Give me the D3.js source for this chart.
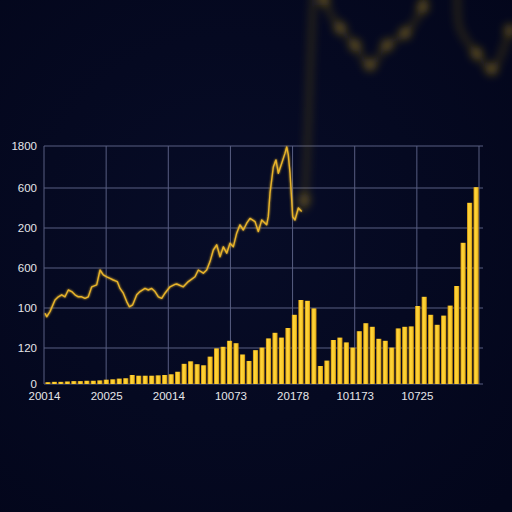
<!DOCTYPE html>
<html>
<head>
<meta charset="utf-8">
<script src="https://cdn.jsdelivr.net/npm/d3@7"></script>
<style>
    body { margin: 0; background: #050921; overflow: hidden; }
    svg { display: block; }
    text { font-family: "Liberation Sans", Arial, sans-serif; }
</style>
</head>
<body>
<div id="chart"></div>
<script>
// tick labels, as printed on the picture
var xLabels = ["20014", "20025", "20014", "10073", "20178", "101173", "10725"];
var yLabels = ["0", "120", "100", "600", "200", "600", "1800"];
var yLevels = [0, 100, 200, 300, 400, 500, 600];

// one bar per slot, 67 slots
var barValues = [5, 6, 6, 7, 8, 8, 9, 9, 10, 12,
    13, 15, 16, 25, 23, 23, 23, 24, 25, 27,
    34, 56, 63, 55, 52, 76, 99, 103, 118, 112,
    82, 64, 94, 101, 124, 138, 126, 150, 183, 220,
    218, 199, 50, 65, 120, 126, 114, 101, 142, 162,
    153, 123, 118, 101, 149, 153, 154, 205, 228, 183,
    158, 181, 206, 255, 363, 463, 502];

// price line (position in bar slots, value)
var linePos = [0.15, 0.41, 0.92, 1.69, 2.2, 2.72, 3.23, 3.73, 4.26, 4.76,
    5.27, 5.79, 6.3, 6.81, 7.33, 8.1, 8.61, 9.11, 9.64, 10.14,
    10.65, 11.26, 11.68, 12.19, 12.71, 13.11, 13.63, 14.25, 14.75, 15.52,
    16.03, 16.55, 17.06, 17.57, 18.09, 18.59, 19.36, 20.13, 20.39, 21.41,
    22.18, 23.21, 23.71, 24.48, 25.0, 25.51, 26.02, 26.54, 27.05, 27.56,
    28.08, 28.58, 29.09, 29.61, 30.12, 30.63, 31.15, 31.66, 32.43, 32.93,
    33.46, 34.22, 34.47, 34.73, 35.24, 35.65, 36.01, 36.53, 37.04, 37.3,
    37.54, 37.81, 38.22, 38.57, 39.08, 39.6];
var lineValues = [187, 178, 191, 220, 228, 233, 228, 245, 241, 233,
    228, 228, 224, 228, 253, 258, 295, 283, 278, 274,
    270, 266, 249, 237, 216, 203, 208, 233, 241, 249,
    245, 249, 241, 228, 224, 237, 253, 259, 260, 253,
    266, 278, 295, 287, 295, 316, 345, 358, 328, 353,
    337, 362, 353, 387, 408, 395, 412, 424, 416, 391,
    420, 408, 429, 487, 550, 567, 535, 559, 583, 598,
    579, 535, 428, 420, 450, 441];

// blurred trace running off the top
var ghostPos = [39.6, 40.0, 41.4, 42.2, 43.0, 45.5, 47.8, 50.1,
    52.7, 55.5, 58.2, 59.0, 62.8, 63.9, 66.5, 68.8, 71.6];
var ghostValues = [441, 470, 950, 1060, 948, 881, 840, 793,
    840, 869, 931, 1000, 1000, 880, 820, 783, 876];
// spots where the blurred trace glows brighter
var ghostSpots = [1, 4, 5, 6, 7, 8, 9, 10, 14, 15, 16];

function drawChart() {
    var w = 512;
    var h = 512;
    var left = 44, right = 480, top = 146, bottom = 384;

    var svg = d3.select("#chart")
        .append("svg")
        .attr("width", w)
        .attr("height", h);

    var defs = svg.append("defs");

    var bg = defs.append("radialGradient").attr("id", "bg")
        .attr("cx", "45%").attr("cy", "45%").attr("r", "75%");
    bg.append("stop").attr("offset", "0%").attr("stop-color", "#070c27");
    bg.append("stop").attr("offset", "100%").attr("stop-color", "#03061b");

    var barGrad = defs.append("linearGradient").attr("id", "barGrad")
        .attr("x1", "0%").attr("x2", "100%").attr("y1", "0%").attr("y2", "0%");
    barGrad.append("stop").attr("offset", "0%").attr("stop-color", "#c98b0a");
    barGrad.append("stop").attr("offset", "30%").attr("stop-color", "#ffd53a");
    barGrad.append("stop").attr("offset", "70%").attr("stop-color", "#f9cb2c");
    barGrad.append("stop").attr("offset", "100%").attr("stop-color", "#c98b0a");

    var glow = defs.append("filter").attr("id", "glow")
        .attr("x", "-10%").attr("y", "-10%").attr("width", "120%").attr("height", "120%");
    glow.append("feGaussianBlur").attr("stdDeviation", 1.2).attr("result", "b");
    var merge = glow.append("feMerge");
    merge.append("feMergeNode").attr("in", "b");
    merge.append("feMergeNode").attr("in", "SourceGraphic");

    var blur = defs.append("filter").attr("id", "blur")
        .attr("filterUnits", "userSpaceOnUse")
        .attr("x", 0).attr("y", -100).attr("width", 600).attr("height", 700);
    blur.append("feGaussianBlur").attr("stdDeviation", 4);

    svg.append("rect")
        .attr("width", w).attr("height", h)
        .attr("fill", "url(#bg)");

    // scales
    var slots = d3.range(barValues.length);
    var xBand = d3.scaleBand().domain(slots).range([left, right]).padding(0.2);
    var xPos = d3.scaleLinear().domain([0, barValues.length]).range([left, right]);
    var xGrid = d3.scaleLinear().domain([0, 7]).range([left, 479]);
    var y = d3.scaleLinear().domain(yLevels).range([bottom, 348, 308, 268, 228, 188, top]);

    // grid
    svg.append("g").selectAll("line.h")
        .data(yLevels)
        .enter().append("line")
        .attr("x1", left).attr("x2", 483)
        .attr("y1", function(d) { return y(d); })
        .attr("y2", function(d) { return y(d); })
        .attr("stroke", "#585e82").attr("stroke-width", 1);

    svg.append("g").selectAll("line.v")
        .data(d3.range(8))
        .enter().append("line")
        .attr("x1", function(d) { return xGrid(d); })
        .attr("x2", function(d) { return xGrid(d); })
        .attr("y1", top).attr("y2", bottom)
        .attr("stroke", "#585e82").attr("stroke-width", 1);

    // blurred trace behind everything else
    var ghostData = ghostPos.map(function(p, i) { return [p, ghostValues[i]]; });
    var ghostLine = d3.line()
        .x(function(d) { return xPos(d[0]); })
        .y(function(d) { return y(d[1]); })
        .curve(d3.curveCatmullRom);
    var ghost = svg.append("g").attr("filter", "url(#blur)");
    ghost.append("path")
        .attr("d", ghostLine(ghostData))
        .attr("fill", "none")
        .attr("stroke", "#b8921a")
        .attr("stroke-width", 6)
        .attr("opacity", 0.22);
    ghost.selectAll("circle")
        .data(ghostSpots)
        .enter().append("circle")
        .attr("cx", function(d) { return xPos(ghostPos[d]); })
        .attr("cy", function(d) { return y(ghostValues[d]); })
        .attr("r", 6)
        .attr("fill", "#c9a01c")
        .attr("opacity", 0.38);

    // bars
    svg.append("g").selectAll("rect")
        .data(barValues)
        .enter().append("rect")
        .attr("x", function(d, i) { return xBand(i); })
        .attr("width", xBand.bandwidth())
        .attr("y", function(d) { return y(d); })
        .attr("height", function(d) { return y(0) - y(d); })
        .attr("fill", "url(#barGrad)");

    // price line
    var lineData = linePos.map(function(p, i) { return [p, lineValues[i]]; });
    var line = d3.line()
        .x(function(d) { return xPos(d[0]); })
        .y(function(d) { return y(d[1]); })
        .curve(d3.curveLinear);
    svg.append("path")
        .attr("d", line(lineData))
        .attr("fill", "none")
        .attr("stroke", "#e8b42c")
        .attr("stroke-width", 1.4)
        .attr("stroke-linejoin", "round")
        .attr("filter", "url(#glow)");

    // axes (labels only)
    var yAxis = d3.axisLeft(y)
        .tickValues(yLevels)
        .tickFormat(function(d, i) { return yLabels[i]; })
        .tickSize(0)
        .tickPadding(7);
    var gy = svg.append("g")
        .attr("transform", "translate(" + left + ",0)")
        .call(yAxis);

    var xAxis = d3.axisBottom(xGrid)
        .tickValues(d3.range(xLabels.length))
        .tickFormat(function(d) { return xLabels[d]; })
        .tickSize(0)
        .tickPadding(8);
    var gx = svg.append("g")
        .attr("transform", "translate(0," + bottom + ")")
        .call(xAxis);

    [gx, gy].forEach(function(g) {
        g.select(".domain").remove();
        g.selectAll("text")
            .attr("fill", "#e6e6ea")
            .style("font-size", "11.5px")
            .style("font-family", "'Liberation Sans', Arial, sans-serif");
    });
}

drawChart();
</script>
</body>
</html>
